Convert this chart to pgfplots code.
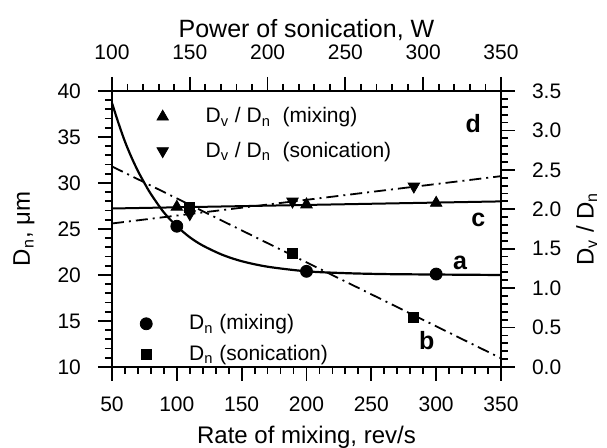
\documentclass[border=0pt]{standalone}
\usepackage{pgfplots}
\pgfplotsset{compat=1.18}
\usepackage{fontspec}
\setmainfont{Liberation Sans}
\begin{document}
\begin{tikzpicture}[font=\fontsize{10.5}{12.5}\selectfont]
\pgfplotsset{
 myaxis/.style={
  scale only axis, width=194.5pt, height=138pt,
  tick align=outside,
  major tick length=7pt, minor tick length=3.5pt,
  every tick/.append style={black, line width=0.9pt},
  axis line style={line width=1.2pt, black},
  /pgf/number format/assume math mode=true,
  tick label style={font=\fontsize{10.5}{12.5}\selectfont},
  clip=false,
  legend cell align=left,
  legend image code/.code={\draw[##1] plot coordinates {(0.3cm,0cm)}; \path[draw=none,fill=none] (0cm,0cm) -- (28pt,0cm);},
 }
}
\begin{axis}[myaxis, name=main,
  xmin=50, xmax=350, ymin=10, ymax=40,
  axis x line*=bottom, axis y line*=left,
  xtick={50,100,...,350}, ytick={10,15,...,40},
  minor x tick num=4, minor y tick num=4,
  xticklabel style={yshift=-4.5pt},
  yticklabel style={xshift=-5pt},
  legend style={draw=none, fill=none, at={(axis description cs:0.0277,0.22)}, anchor=north west,
    font=\fontsize{10.5}{12.5}\selectfont, row sep=2pt},
]
% curve a (D_n, mixing)
\addplot[forget plot, smooth, line width=1.1pt, black] coordinates {
 (50,38.7) (55,36.5) (60,34.5) (65,32.8) (70,31.3) (75,30.0) (80,28.8) (90,26.8)
 (100,25.3) (110,24.1) (120,23.2) (135,22.2) (150,21.5) (170,20.9) (200,20.4)
 (230,20.2) (260,20.1) (300,20.05) (350,20.0)};
% line b (D_n, sonication), x given in W
\addplot[forget plot, line width=0.9pt, black, dash pattern=on 6pt off 2.5pt on 1pt off 2.5pt]
 table[x expr={50+(\thisrow{P}-100)*1.2}, y=Dn, row sep=\\] {P Dn\\ 100 31.8\\ 350 10.95\\};
\addplot[only marks, mark=*, mark size=3pt, black] coordinates {(100,25.3) (200,20.4) (300,20.1)};
\addlegendentry{D\textsubscript{n} (mixing)}
\addplot[only marks, mark=square*, mark size=2.5pt, black]
 table[x expr={50+(\thisrow{P}-100)*1.2}, y=Dn, row sep=\\] {P Dn\\ 150 27.4\\ 216 22.4\\ 294 15.4\\};
\addlegendentry{D\textsubscript{n} (sonication)}
\node[font=\fontsize{12.5}{14}\selectfont\bfseries] at (axis cs:328.6,36.5) {d};
\node[font=\fontsize{12.5}{14}\selectfont\bfseries] at (axis cs:332.5,26.0) {c};
\node[font=\fontsize{12.5}{14}\selectfont\bfseries] at (axis cs:318.4,21.3) {a};
\node[font=\fontsize{12.5}{14}\selectfont\bfseries] at (axis cs:292.7,12.9) {b};
\node[anchor=base, font=\fontsize{12}{14}\selectfont] at (axis description cs:0.5,-0.2790) {Rate of mixing, rev/s};
\node[rotate=90, anchor=base, font=\fontsize{12}{14}\selectfont] at (axis description cs:-0.2110,0.5) {D\textsubscript{n}, μm};
\end{axis}
\begin{axis}[myaxis, at={(main.south west)}, anchor=south west,
  xmin=100, xmax=350, ymin=0, ymax=3.5,
  axis x line*=top, axis y line*=right,
  xtick={100,150,...,350}, ytick={0,0.5,...,3.5},
  minor x tick num=4, minor y tick num=4,
  xticklabel style={yshift=5pt},
  yticklabel style={xshift=5pt, /pgf/number format/.cd, fixed, fixed zerofill, precision=1},
  legend style={draw=none, fill=none, at={(axis description cs:0.07,0.97)}, anchor=north west,
    font=\fontsize{10.5}{12.5}\selectfont, row sep=4pt},
]
% line c (D_v/D_n, mixing), x given in rev/s
\addplot[forget plot, line width=1.0pt, black]
 table[x expr={100+(\thisrow{R}-50)/1.2}, y=V, row sep=\\] {R V\\ 50 2.01\\ 350 2.10\\};
% line d (D_v/D_n, sonication)
\addplot[forget plot, line width=0.9pt, black, dash pattern=on 6pt off 2.5pt on 1pt off 2.5pt]
 coordinates {(100,1.82) (350,2.42)};
\addplot[only marks, mark=triangle*, mark size=3.3pt, black]
 table[x expr={100+(\thisrow{R}-50)/1.2}, y=V, row sep=\\] {R V\\ 100 2.03\\ 200 2.06\\ 300 2.08\\};
\addlegendentry{D\textsubscript{v} / D\textsubscript{n}\ \ (mixing)}
\addplot[only marks, mark=triangle*, mark options={rotate=180}, mark size=3.3pt, black]
 coordinates {(150,1.94) (216,2.10) (294,2.29)};
\addlegendentry{D\textsubscript{v} / D\textsubscript{n}\ \ (sonication)}
\node[anchor=base, font=\fontsize{12.5}{15}\selectfont] at (axis description cs:0.5,1.195) {Power of sonication, W};
\node[rotate=90, anchor=base, font=\fontsize{12}{14}\selectfont] at (axis description cs:1.238,0.5) {D\textsubscript{v} / D\textsubscript{n}};
\end{axis}
\pgfresetboundingbox
\path (main.south west) ++(-56pt,-40.5pt) rectangle ++(303.5pt,224pt);
\end{tikzpicture}
\end{document}
